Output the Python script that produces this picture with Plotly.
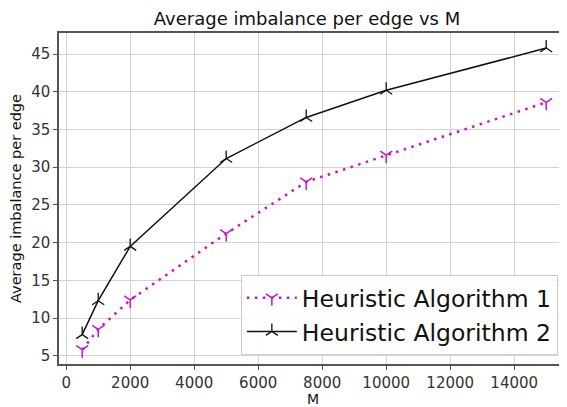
import plotly.graph_objects as go

M = [500, 1000, 2000, 5000, 7500, 10000, 15000]
alg1 = [5.8, 8.5, 12.4, 21.2, 28.05, 31.6, 38.6]
alg2 = [7.8, 12.3, 19.5, 31.15, 36.6, 40.2, 45.8]
x_ticks = [0, 2000, 4000, 6000, 8000, 10000, 12000, 14000]
x_tick_labels = ["0", "2000", "4000", "6000", "8000", "10000", "12000", "14000"]
y_ticks = [5, 10, 15, 20, 25, 30, 35, 40, 45]

FONT = "DejaVu Sans"
MAG = "#cc11cc"

fig = go.Figure()
fig.add_trace(go.Scatter(
    x=M, y=alg1, mode="lines+markers", name="Heuristic Algorithm 1",
    line=dict(color=MAG, width=2.5, dash="2.5px,5.5px"),
    marker=dict(symbol="y-down", size=10, color=MAG,
                line=dict(color=MAG, width=1.5)),
))
fig.add_trace(go.Scatter(
    x=M, y=alg2, mode="lines+markers", name="Heuristic Algorithm 2",
    line=dict(color="#111111", width=1.5),
    marker=dict(symbol="y-up", size=10, color="#111111",
                line=dict(color="#111111", width=1.3)),
))

axis_common = dict(
    showgrid=True, gridcolor="#d3d3d3", gridwidth=1.2,
    showline=True, linecolor="#555555", linewidth=1.5,
    ticks="outside", ticklen=4, tickcolor="#555555",
    tickfont=dict(family=FONT, size=15, color="#333333"),
    zeroline=False, automargin=False,
)

# page body has an 8px default margin, so the figure is offset by 8px
fig.update_layout(
    width=559, height=399,
    margin=dict(l=51, r=0, t=25, b=43),
    paper_bgcolor="white", plot_bgcolor="white",
    title=dict(text="Average imbalance per edge vs M", x=0.535, xanchor="center",
               y=0.972, yanchor="middle",
               font=dict(family=FONT, size=18, color="#111111")),
    xaxis=dict(range=[-225, 15650], tickvals=x_ticks, ticktext=x_tick_labels,
               mirror=True,
               title=dict(text="M", standoff=8,
                          font=dict(family=FONT, size=14, color="#111111")),
               **axis_common),
    yaxis=dict(range=[3.9, 47.8], tickvals=y_ticks, mirror=False,
               title=dict(text="Average imbalance per edge", standoff=7,
                          font=dict(family=FONT, size=14.5, color="#111111")),
               **axis_common),
    legend=dict(x=0.982, y=0.027, xanchor="right", yanchor="bottom",
                bgcolor="rgba(255,255,255,0.9)", bordercolor="#cccccc", borderwidth=1,
                font=dict(family=FONT, size=23.5, color="#111111"),
                itemwidth=50),
    showlegend=True,
)

fig.write_html("out.html")
